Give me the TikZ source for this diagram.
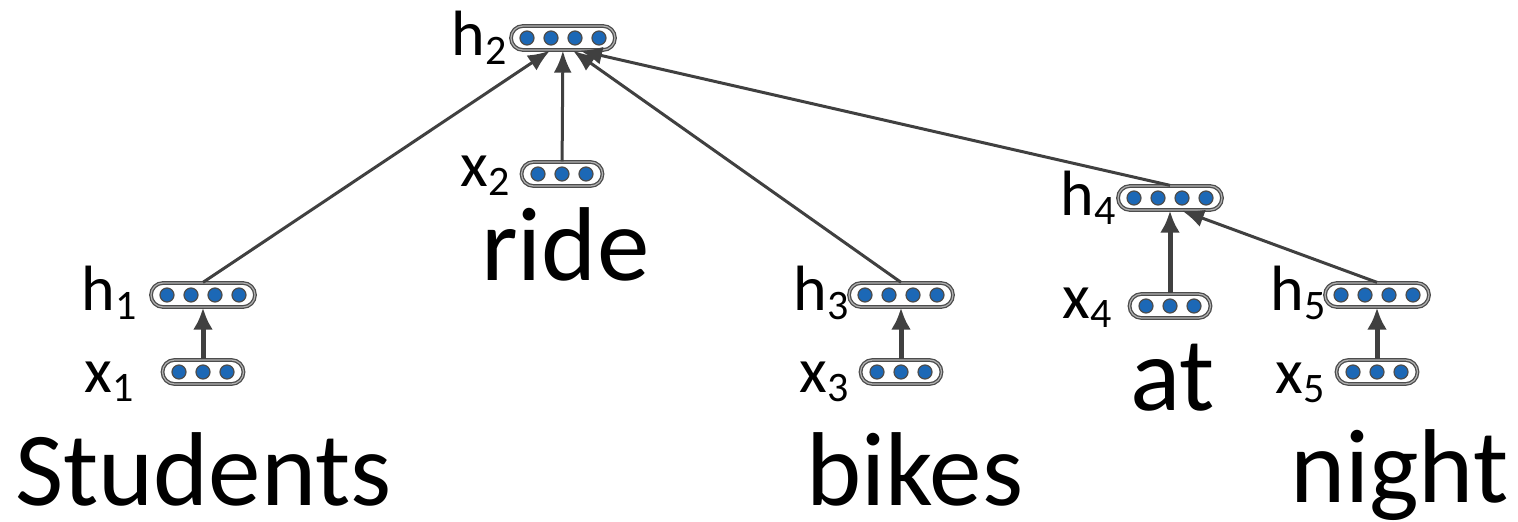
\documentclass[tikz,border=0pt]{standalone}
\usepackage{fontspec}
\setmainfont{Carlito}
\usetikzlibrary{arrows.meta}

\definecolor{dotblue}{RGB}{28,104,182}
\definecolor{edgegray}{RGB}{64,64,64}

\newcommand\vlabel[2]{#1\raisebox{-9pt}{\fontsize{42}{42}\selectfont #2}}

\begin{document}
\begin{tikzpicture}[x=1pt, y=-1pt,
  vecdot/.style={fill=dotblue, draw=black!70, line width=1.2pt},
  every vector/.style={draw=black!70, double=black!30, double distance=1.2pt,
    line width=1.3pt, fill=white, rounded corners=12pt, minimum height=24pt, inner sep=0pt},
  hvec/.style={every vector, minimum width=104pt, path picture={
    \foreach \d in {-36,-12,12,36}
      \filldraw[vecdot] ([xshift=\d pt]path picture bounding box.center) circle (7pt);}},
  xvec/.style={every vector, minimum width=81pt, path picture={
    \foreach \d in {-24,0,24}
      \filldraw[vecdot] ([xshift=\d pt]path picture bounding box.center) circle (7pt);}},
  vlab/.style={anchor=east, inner sep=0pt, font=\fontsize{64}{64}\selectfont},
  word/.style={anchor=base west, inner sep=0pt, font=\fontsize{105}{105}\selectfont},
  thin edge/.style={draw=edgegray, line width=3pt, -{Latex[length=22pt, width=18pt]}},
  thick edge/.style={draw=edgegray, line width=5pt, -{Latex[length=22pt, width=20pt]}}]
\useasboundingbox (0,0) rectangle (1518,522);

\foreach \i/\hx/\hy/\xx/\xy in {1/203/295/203/372, 2/563/38/562/174, 3/901/295/901/372,
                               4/1170/198/1170/306, 5/1377/295/1377/372}
{
  \node [hvec] (h-\i) at (\hx,\hy) {};
  \node [xvec] (x-\i) at (\xx,\xy) {};
}

\foreach \i/\lx/\ly in {1/137/293, 2/507/38, 3/849/293, 4/1116/198, 5/1326/293}
  \node [vlab] (hl-\i) at (\lx,\ly) {\vlabel{h}{\i}};
\foreach \i/\lx/\ly in {1/134/382, 2/510/176, 3/849/382, 4/1112/308, 5/1325/383}
  \node [vlab] (xl-\i) at (\lx,\ly) {\vlabel{x}{\i}};

\foreach \w/\l/\wx/\wy in {1/Students/15/505, 2/ride/481/280, 3/bikes/806/505,
                           4/at/1130/410, 5/night/1290/502}
  \node [word] (word-\w) at (\wx,\wy) {\l};

\foreach \i in {1,3,4,5}
  \draw [thick edge] (x-\i) -- (h-\i);
\draw [thin edge] (x-2) -- (h-2);

\draw [thin edge] (h-1.north) -- ([xshift=-13pt]h-2.south);
\draw [thin edge] (h-3.north) -- ([xshift=10pt]h-2.south);
\draw [thin edge] (h-4.north) -- ([xshift=17pt]h-2.south);
\draw [thin edge] (h-5.north) -- ([xshift=12pt]h-4.south);
\end{tikzpicture}
\end{document}
